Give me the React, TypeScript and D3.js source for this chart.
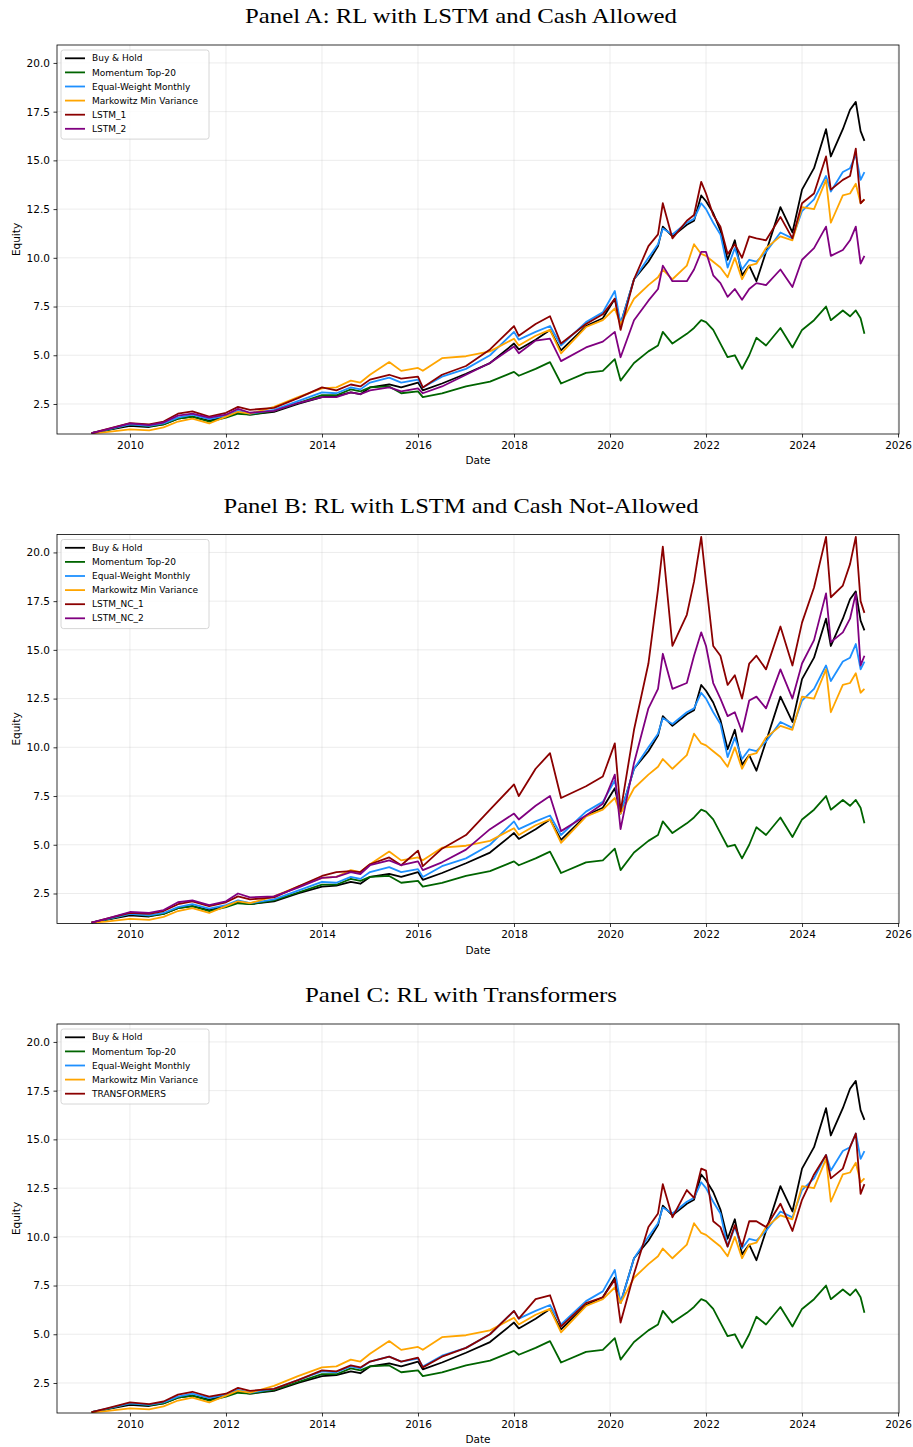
import { useEffect, useRef } from "react";
import * as d3 from "d3";

const dates = [
  2009.2, 2009.5, 2010.0, 2010.4, 2010.7, 2011.0, 2011.3, 2011.65, 2012.0, 2012.25,
  2012.5, 2013.0, 2013.5, 2014.0, 2014.3, 2014.6, 2014.8, 2015.0, 2015.4, 2015.65,
  2016.0, 2016.1, 2016.5, 2017.0, 2017.5, 2018.0, 2018.1, 2018.45, 2018.75, 2018.98,
  2019.5, 2019.85, 2020.1, 2020.22, 2020.5, 2020.8, 2021.0, 2021.1, 2021.3, 2021.6,
  2021.75, 2021.9, 2022.0, 2022.15, 2022.3, 2022.45, 2022.6, 2022.75, 2022.9, 2023.05,
  2023.25, 2023.55, 2023.8, 2024.0, 2024.25, 2024.5, 2024.6, 2024.85, 2025.0, 2025.12,
  2025.22, 2025.3,
];

const buyHold = [
  1.0, 1.15, 1.38, 1.32, 1.45, 1.75, 1.85, 1.65, 1.85, 2.05,
  1.95, 2.1, 2.5, 2.85, 2.9, 3.1, 3.0, 3.35, 3.5, 3.35,
  3.6, 3.2, 3.55, 4.05, 4.6, 5.6, 5.3, 5.8, 6.3, 5.25,
  6.5, 6.9, 7.9, 6.6, 8.9, 9.8, 10.6, 11.6, 11.1, 11.7,
  11.9, 13.2, 12.9, 12.3, 11.4, 9.9, 10.9, 9.1, 9.6, 8.8,
  10.3, 12.6, 11.3, 13.5, 14.6, 16.6, 15.2, 16.6, 17.6, 18.0,
  16.5, 16.0,
];

const momentum = [
  1.0, 1.15, 1.45, 1.35, 1.45, 1.75, 1.85, 1.6, 1.8, 2.0,
  1.95, 2.15, 2.55, 2.95, 2.95, 3.25, 3.15, 3.35, 3.4, 3.05,
  3.15, 2.85, 3.05, 3.4, 3.65, 4.15, 3.95, 4.3, 4.65, 3.55,
  4.1, 4.2, 4.8, 3.7, 4.6, 5.2, 5.5, 6.2, 5.6, 6.1,
  6.4, 6.8, 6.7, 6.3, 5.6, 4.9, 5.0, 4.3, 5.0, 5.9,
  5.5, 6.4, 5.4, 6.3, 6.8, 7.5, 6.8, 7.3, 7.0, 7.3,
  6.9, 6.1,
];

const equalWeight = [
  1.0, 1.17, 1.45, 1.38, 1.5, 1.8, 1.95, 1.72, 1.9, 2.15,
  2.0, 2.2, 2.65, 3.1, 3.05, 3.35, 3.25, 3.6, 3.85, 3.6,
  3.75, 3.35, 3.9, 4.3, 5.0, 6.2, 5.8, 6.2, 6.5, 5.5,
  6.7, 7.2, 8.3, 6.6, 8.9, 10.0, 10.7, 11.5, 11.2, 11.8,
  12.0, 12.8, 12.5, 11.8, 11.2, 9.5, 10.5, 9.4, 9.9, 9.8,
  10.3, 11.3, 11.0, 12.4, 13.0, 14.2, 13.4, 14.4, 14.6, 15.3,
  14.0, 14.4,
];

const markowitz = [
  1.0, 1.06, 1.2, 1.15, 1.3, 1.6, 1.75, 1.5, 1.85, 2.1,
  2.0, 2.35, 2.85, 3.3, 3.35, 3.7, 3.6, 4.0, 4.65, 4.2,
  4.35, 4.2, 4.85, 4.95, 5.2, 5.85, 5.5, 6.0, 6.3, 5.1,
  6.45, 6.8, 7.4, 6.6, 7.9, 8.6, 9.0, 9.4, 8.9, 9.6,
  10.7, 10.2, 10.1, 9.8, 9.5, 9.0, 10.0, 8.9, 9.6, 9.7,
  10.5, 11.1, 10.9, 12.6, 12.5, 14.0, 11.8, 13.2, 13.3, 13.8,
  12.8, 13.0,
];

const lstm1 = [
  1.0, 1.2, 1.52, 1.45, 1.6, 2.0, 2.12, 1.85, 2.05, 2.35,
  2.2, 2.3, 2.8, 3.35, 3.2, 3.5, 3.4, 3.75, 4.0, 3.8,
  3.9, 3.35, 4.0, 4.45, 5.3, 6.5, 6.0, 6.6, 7.0, 5.6,
  6.6, 7.1, 7.9, 6.3, 8.9, 10.6, 11.2, 12.8, 11.0, 11.9,
  12.2, 13.9, 13.3, 12.2, 11.6, 10.2, 10.7, 10.0, 11.1, 11.0,
  10.9, 12.1, 11.0, 12.8, 13.3, 15.2, 13.5, 14.0, 14.2, 15.6,
  12.8, 13.0,
];

const lstm2 = [
  1.0, 1.18, 1.5, 1.42, 1.55, 1.9, 2.0, 1.8, 1.95, 2.25,
  2.05, 2.15, 2.55, 2.85, 2.85, 3.1, 3.0, 3.2, 3.35, 3.15,
  3.3, 3.05, 3.4, 4.0, 4.6, 5.45, 5.1, 5.75, 5.85, 4.7,
  5.4, 5.7, 6.2, 4.9, 6.8, 7.8, 8.4, 9.6, 8.8, 8.8,
  9.4, 10.3, 10.3, 9.1, 8.7, 8.0, 8.4, 7.85, 8.4, 8.7,
  8.6, 9.4, 8.5, 9.9, 10.5, 11.6, 10.1, 10.4, 10.9, 11.6,
  9.7, 10.1,
];

const lstmNc1 = [
  1.0, 1.2, 1.5, 1.45, 1.6, 1.95, 2.1, 1.85, 2.05, 2.35,
  2.2, 2.3, 2.85, 3.4, 3.6, 3.65, 3.6, 4.0, 4.35, 3.95,
  4.7, 3.9, 4.8, 5.5, 6.8, 8.1, 7.5, 8.9, 9.7, 7.4,
  8.0, 8.5, 10.2, 6.7, 10.9, 14.3, 18.1, 20.3, 15.2, 16.8,
  18.5, 20.8, 18.5, 15.2, 14.7, 13.2, 13.7, 12.5, 14.3, 14.7,
  14.0, 16.2, 14.2, 16.4, 18.2, 20.8, 17.7, 18.3, 19.4, 20.8,
  17.5, 16.9,
];

const lstmNc2 = [
  1.0, 1.2, 1.55, 1.5, 1.65, 2.05, 2.15, 1.9, 2.1, 2.5,
  2.3, 2.35, 2.8, 3.3, 3.35, 3.6, 3.5, 3.95, 4.2, 3.95,
  4.15, 3.7, 4.1, 4.75, 5.8, 6.6, 6.3, 7.0, 7.5, 5.7,
  6.5, 7.1, 8.6, 5.8, 9.2, 12.0, 13.0, 14.8, 13.0, 13.3,
  14.7, 15.9, 15.2, 13.3, 12.5, 11.6, 11.8, 10.8, 12.4, 12.6,
  12.0, 14.0, 12.5, 14.3, 15.5, 17.9, 15.4, 15.9, 16.6, 17.9,
  14.2, 14.7,
];

const transformers = [
  1.0, 1.18, 1.5, 1.42, 1.55, 1.9, 2.05, 1.8, 1.95, 2.25,
  2.1, 2.2, 2.65, 3.15, 3.1, 3.4, 3.3, 3.6, 3.85, 3.6,
  3.8, 3.3, 3.85, 4.3, 5.0, 6.2, 5.8, 6.8, 7.0, 5.4,
  6.6, 6.9, 7.8, 5.6, 8.1, 10.5, 11.2, 12.7, 11.0, 12.4,
  12.0, 13.5, 13.4, 10.8, 10.5, 9.5, 10.6, 9.5, 10.8, 10.8,
  10.5, 11.7, 10.3, 11.9, 13.2, 14.2, 13.0, 13.5, 14.6, 15.3,
  12.2, 12.7,
];

const xTickYears = [2010, 2012, 2014, 2016, 2018, 2020, 2022, 2024, 2026];
const yTickValues = [2.5, 5.0, 7.5, 10.0, 12.5, 15.0, 17.5, 20.0];

const baseSeries = [
  { name: "Buy & Hold", values: buyHold, color: "black" },
  { name: "Momentum Top-20", values: momentum, color: "darkgreen" },
  { name: "Equal-Weight Monthly", values: equalWeight, color: "dodgerblue" },
  { name: "Markowitz Min Variance", values: markowitz, color: "orange" },
];

const panels = [
  {
    title: "Panel A: RL with LSTM and Cash Allowed",
    titleWidth: 432,
    series: [
      ...baseSeries,
      { name: "LSTM_1", values: lstm1, color: "darkred" },
      { name: "LSTM_2", values: lstm2, color: "purple" },
    ],
  },
  {
    title: "Panel B: RL with LSTM and Cash Not-Allowed",
    titleWidth: 475,
    series: [
      ...baseSeries,
      { name: "LSTM_NC_1", values: lstmNc1, color: "darkred" },
      { name: "LSTM_NC_2", values: lstmNc2, color: "purple" },
    ],
  },
  {
    title: "Panel C: RL with Transformers",
    titleWidth: 312,
    series: [...baseSeries, { name: "TRANSFORMERS", values: transformers, color: "darkred" }],
  },
];

export default function App() {
  const svgRef = useRef<SVGSVGElement | null>(null);

  useEffect(() => {
    const svg = d3.select(svgRef.current);
    svg.selectAll("*").remove();

    const left = 57;
    const right = 899;
    const panelH = 389;
    const panelTops = [45, 534.5, 1024];
    const sans = "DejaVu Sans, sans-serif";

    const x = d3.scaleLinear().domain([2008.48, 2026.02]).range([left, right]);

    panels.forEach((panel, i) => {
      const top = panelTops[i];
      const bottom = top + panelH;
      const y = d3.scaleLinear().domain([0.96, 20.92]).range([bottom, top]);
      const g = svg.append("g");

      // title
      g.append("text")
        .attr("x", 461)
        .attr("y", top - 22)
        .attr("text-anchor", "middle")
        .attr("font-family", "Liberation Serif, serif")
        .attr("font-size", 21)
        .attr("textLength", panel.titleWidth)
        .attr("lengthAdjust", "spacingAndGlyphs")
        .text(panel.title);

      // grid
      g.append("g")
        .selectAll("line")
        .data(xTickYears)
        .join("line")
        .attr("x1", (d) => x(d))
        .attr("x2", (d) => x(d))
        .attr("y1", top)
        .attr("y2", bottom)
        .attr("stroke", "#b0b0b0")
        .attr("stroke-opacity", 0.3)
        .attr("stroke-width", 0.8);
      g.append("g")
        .selectAll("line")
        .data(yTickValues)
        .join("line")
        .attr("x1", left)
        .attr("x2", right)
        .attr("y1", (d) => y(d))
        .attr("y2", (d) => y(d))
        .attr("stroke", "#b0b0b0")
        .attr("stroke-opacity", 0.3)
        .attr("stroke-width", 0.8);

      // lines
      const clipId = `clip-${i}`;
      g.append("clipPath")
        .attr("id", clipId)
        .append("rect")
        .attr("x", left)
        .attr("y", top)
        .attr("width", right - left)
        .attr("height", panelH);

      const line = d3
        .line<number>()
        .x((_, k) => x(dates[k]))
        .y((d) => y(d));

      g.append("g")
        .attr("clip-path", `url(#${clipId})`)
        .selectAll("path")
        .data(panel.series)
        .join("path")
        .attr("d", (s) => line(s.values))
        .attr("fill", "none")
        .attr("stroke", (s) => s.color)
        .attr("stroke-width", 1.8)
        .attr("stroke-linejoin", "round");

      // axes
      const xAxis = g
        .append("g")
        .attr("transform", `translate(0,${bottom})`)
        .call(
          d3
            .axisBottom(x)
            .tickValues(xTickYears)
            .tickFormat(d3.format("d"))
            .tickSize(3.5)
            .tickPadding(4)
        );
      const yAxis = g
        .append("g")
        .attr("transform", `translate(${left},0)`)
        .call(
          d3
            .axisLeft(y)
            .tickValues(yTickValues)
            .tickFormat(d3.format(".1f"))
            .tickSize(3.5)
            .tickPadding(3.5)
        );
      [xAxis, yAxis].forEach((a) => {
        a.select(".domain").remove();
        a.selectAll("text").attr("font-family", sans).attr("font-size", 10.5).attr("fill", "#000");
        a.selectAll("line").attr("stroke", "#000").attr("stroke-width", 0.8);
      });

      // frame
      g.append("rect")
        .attr("x", left)
        .attr("y", top)
        .attr("width", right - left)
        .attr("height", panelH)
        .attr("fill", "none")
        .attr("stroke", "#000")
        .attr("stroke-width", 0.8);

      // axis labels
      g.append("text")
        .attr("x", (left + right) / 2)
        .attr("y", bottom + 30)
        .attr("text-anchor", "middle")
        .attr("font-family", sans)
        .attr("font-size", 10.5)
        .text("Date");
      g.append("text")
        .attr("transform", `translate(19.5,${(top + bottom) / 2}) rotate(-90)`)
        .attr("text-anchor", "middle")
        .attr("font-family", sans)
        .attr("font-size", 10.5)
        .text("Equity");

      // legend
      const rowH = 14.1;
      const lg = g.append("g").attr("transform", `translate(61,${top + 5})`);
      lg.append("rect")
        .attr("width", 148)
        .attr("height", panel.series.length * rowH + 4.5)
        .attr("rx", 2.5)
        .attr("fill", "white")
        .attr("fill-opacity", 0.8)
        .attr("stroke", "#ccc")
        .attr("stroke-width", 0.8);
      const rows = lg
        .selectAll("g.row")
        .data(panel.series)
        .join("g")
        .attr("class", "row")
        .attr("transform", (_, k) => `translate(0,${8.3 + k * rowH})`);
      rows
        .append("line")
        .attr("x1", 4)
        .attr("x2", 24)
        .attr("stroke", (s) => s.color)
        .attr("stroke-width", 1.8);
      rows
        .append("text")
        .attr("x", 31)
        .attr("dy", "0.35em")
        .attr("font-family", sans)
        .attr("font-size", 9)
        .text((s) => s.name);
    });
  }, []);

  return (
    <div style={{ position: "absolute", left: 0, top: 0 }}>
      <svg ref={svgRef} width={913} height={1447} style={{ display: "block", background: "white" }} />
    </div>
  );
}
